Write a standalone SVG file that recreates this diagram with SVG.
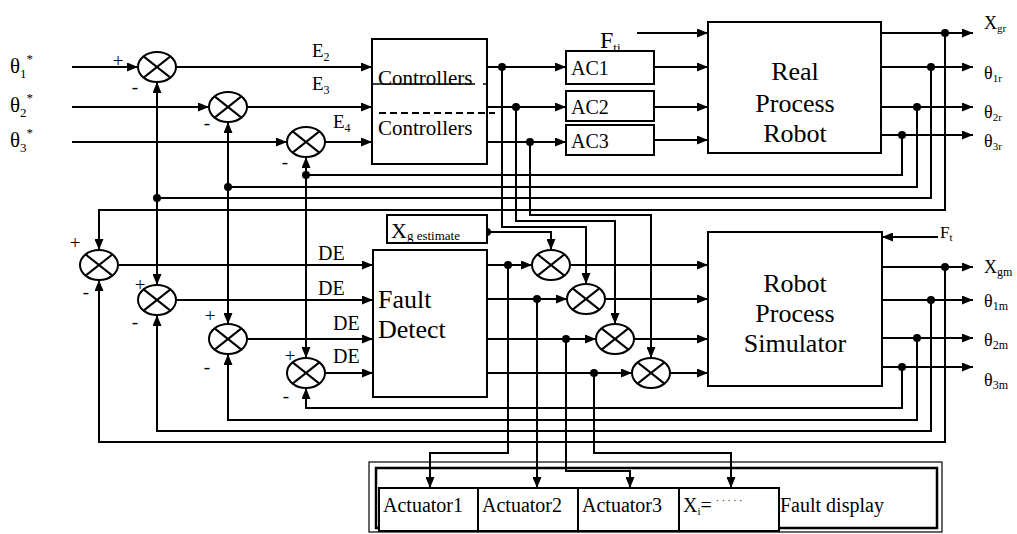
<svg xmlns="http://www.w3.org/2000/svg" width="1017" height="534" viewBox="0 0 1017 534" font-family="'Liberation Serif', 'Times New Roman', 'DejaVu Serif', serif">
<style>
.ln{fill:none;stroke:#000;stroke-width:2}
.ar{marker-end:url(#ah)}
.box{fill:#fff;stroke:#000;stroke-width:2}
.dot{fill:#000}
.sg{font-size:19px;text-anchor:middle}
.big{font-size:26px;text-anchor:middle}
</style>
<defs>
<marker id="ah" markerWidth="11" markerHeight="9" refX="11" refY="4.5" orient="auto" markerUnits="userSpaceOnUse"><path d="M0,0 L11,4.5 L0,9 z" fill="#000"/></marker>
<g id="x"><ellipse cx="0" cy="0" rx="19" ry="15" fill="#fff" stroke="#000" stroke-width="2"/><path d="M-13.4,-10.6 L13.4,10.6 M-13.4,10.6 L13.4,-10.6" fill="none" stroke="#000" stroke-width="2"/></g>
</defs>
<rect width="1017" height="534" fill="#fff"/>

<g id="connectors">
<path class="ln ar" d="M72,67 H138"/>
<path class="ln ar" d="M72,107 H209"/>
<path class="ln ar" d="M72,142 H287"/>
<path class="ln ar" d="M176,67 H372"/>
<path class="ln ar" d="M247,107 H372"/>
<path class="ln ar" d="M325,142 H372"/>
<path class="ln ar" d="M487,67 H566"/>
<path class="ln ar" d="M487,107 H566"/>
<path class="ln ar" d="M487,142 H566"/>
<path class="ln ar" d="M654,67 H708"/>
<path class="ln ar" d="M654,107 H708"/>
<path class="ln ar" d="M654,140 H708"/>
<path class="ln ar" d="M637,33 H708"/>
<path class="ln ar" d="M881,33 H973"/>
<path class="ln ar" d="M881,67 H973"/>
<path class="ln ar" d="M881,107 H973"/>
<path class="ln ar" d="M881,135 H973"/>
<path class="ln ar" d="M945,33 V210 H99 V250"/>
<path class="ln" d="M931,67 V198 H157"/>
<path class="ln ar" d="M157,198 V82"/>
<path class="ln ar" d="M157,198 V285"/>
<path class="ln" d="M917,107 V187 H228"/>
<path class="ln ar" d="M228,187 V122"/>
<path class="ln ar" d="M228,187 V324"/>
<path class="ln" d="M902,135 V175 H306"/>
<path class="ln ar" d="M306,175 V157"/>
<path class="ln ar" d="M306,175 V358"/>
<path class="ln ar" d="M502,67 V227 H586 V284"/>
<path class="ln ar" d="M516,107 V221 H615 V324"/>
<path class="ln ar" d="M530,142 V215 H651 V358"/>
<path class="ln ar" d="M487,232 H551 V250"/>
<path class="ln ar" d="M118,265 H373"/>
<path class="ln ar" d="M176,300 H373"/>
<path class="ln ar" d="M247,339 H373"/>
<path class="ln ar" d="M325,373 H373"/>
<path class="ln ar" d="M487,265 H532"/>
<path class="ln ar" d="M487,299 H567"/>
<path class="ln ar" d="M487,339 H596"/>
<path class="ln ar" d="M487,373 H632"/>
<path class="ln ar" d="M570,265 H708"/>
<path class="ln ar" d="M605,299 H708"/>
<path class="ln ar" d="M634,339 H708"/>
<path class="ln ar" d="M670,373 H708"/>
<path class="ln ar" d="M938,237 H882"/>
<path class="ln ar" d="M882,267 H973"/>
<path class="ln ar" d="M882,300 H973"/>
<path class="ln ar" d="M882,338 H973"/>
<path class="ln ar" d="M882,367 H973"/>
<path class="ln ar" d="M902,367 V408 H306 V388"/>
<path class="ln ar" d="M917,338 V420 H228 V354"/>
<path class="ln ar" d="M931,300 V431 H157 V315"/>
<path class="ln ar" d="M945,267 V442 H99 V280"/>
<path class="ln ar" d="M508,265 V453 H430 V488"/>
<path class="ln ar" d="M537,299 V488"/>
<path class="ln ar" d="M566,339 V471 H630 V488"/>
<path class="ln ar" d="M594,373 V453 H731 V488"/>
<g class="dot">
<circle cx="502" cy="67" r="4"/><circle cx="516" cy="107" r="4"/><circle cx="530" cy="142" r="4"/>
<circle cx="945" cy="33" r="4"/><circle cx="931" cy="67" r="4"/><circle cx="917" cy="107" r="4"/><circle cx="902" cy="135" r="4"/>
<circle cx="157" cy="198" r="4"/><circle cx="228" cy="187" r="4"/><circle cx="306" cy="175" r="4"/>
<circle cx="487" cy="232" r="4"/>
<circle cx="508" cy="265" r="4"/><circle cx="537" cy="299" r="4"/><circle cx="566" cy="339" r="4"/><circle cx="594" cy="373" r="4"/>
<circle cx="945" cy="267" r="4"/><circle cx="931" cy="300" r="4"/><circle cx="917" cy="338" r="4"/><circle cx="902" cy="367" r="4"/>
</g>
</g>

<g id="inputs">
<text x="10" y="73" font-size="21">θ<tspan font-size="13" dy="5">1</tspan><tspan font-size="13" dy="-15">*</tspan></text>
<text x="10" y="112" font-size="21">θ<tspan font-size="13" dy="5">2</tspan><tspan font-size="13" dy="-15">*</tspan></text>
<text x="10" y="147" font-size="21">θ<tspan font-size="13" dy="5">3</tspan><tspan font-size="13" dy="-15">*</tspan></text>
</g>

<g id="sum1"><use href="#x" x="157" y="67"/></g>
<g id="sum2"><use href="#x" x="228" y="107"/></g>
<g id="sum3"><use href="#x" x="306" y="142"/></g>
<g id="sumL1"><use href="#x" x="99" y="265"/></g>
<g id="sumL2"><use href="#x" x="157" y="300"/></g>
<g id="sumL3"><use href="#x" x="228" y="339"/></g>
<g id="sumL4"><use href="#x" x="306" y="373"/></g>
<g id="sumA"><use href="#x" x="551" y="265"/></g>
<g id="sumB"><use href="#x" x="586" y="299"/></g>
<g id="sumC"><use href="#x" x="615" y="339"/></g>
<g id="sumD"><use href="#x" x="651" y="373"/></g>

<g id="signs">
<text class="sg" x="118" y="67">+</text>
<text class="sg" x="135" y="93">-</text>
<text class="sg" x="207" y="129">-</text>
<text class="sg" x="285" y="168">-</text>
<text class="sg" x="75" y="249">+</text>
<text class="sg" x="86" y="298">-</text>
<text class="sg" x="140" y="291">+</text>
<text class="sg" x="135" y="328">-</text>
<text class="sg" x="210" y="322">+</text>
<text class="sg" x="207" y="373">-</text>
<text class="sg" x="290" y="362">+</text>
<text class="sg" x="286" y="402">-</text>
</g>

<g id="elabels" font-size="19">
<text x="312" y="57">E<tspan font-size="12" dy="4">2</tspan></text>
<text x="312" y="90">E<tspan font-size="12" dy="4">3</tspan></text>
<text x="333" y="128">E<tspan font-size="12" dy="4">4</tspan></text>
<text x="318" y="260" font-size="20">DE</text>
<text x="318" y="295" font-size="20">DE</text>
<text x="333" y="330" font-size="20">DE</text>
<text x="333" y="363" font-size="20">DE</text>
</g>

<g id="controllers">
<rect class="box" x="372" y="39" width="115" height="125"/>
<path d="M373,84 H475 M483,84 H487" stroke="#000" stroke-width="1.5"/>
<path d="M379,113 H495" stroke="#000" stroke-width="2" stroke-dasharray="7,4"/>
<text x="378" y="85" font-size="21">Controllers</text>
<text x="378" y="135" font-size="21">Controllers</text>
</g>

<g id="fti"><text x="600" y="48" font-size="24">F<tspan font-size="13" dy="4">ti</tspan></text></g>

<g id="ac1"><rect class="box" x="566" y="51" width="88" height="33"/><text x="571" y="75" font-size="20">AC1</text></g>
<g id="ac2"><rect class="box" x="566" y="91" width="88" height="30"/><text x="571" y="114" font-size="20">AC2</text></g>
<g id="ac3"><rect class="box" x="566" y="125" width="88" height="30"/><text x="571" y="148" font-size="20">AC3</text></g>

<g id="real">
<rect class="box" x="708" y="22" width="173" height="131"/>
<text class="big" x="795" y="80">Real</text>
<text class="big" x="795" y="112">Process</text>
<text class="big" x="795" y="142">Robot</text>
</g>

<g id="realout" font-size="18">
<text x="984" y="29">X<tspan font-size="11" dy="3">gr</tspan></text>
<text x="984" y="79">θ<tspan font-size="11" dy="3">1r</tspan></text>
<text x="984" y="118">θ<tspan font-size="11" dy="3">2r</tspan></text>
<text x="984" y="147">θ<tspan font-size="11" dy="3">3r</tspan></text>
</g>

<g id="xgest">
<rect class="box" x="387" y="215" width="100" height="28"/>
<text x="391" y="238" font-size="22">X<tspan font-size="13" dy="2">g estimate</tspan></text>
</g>

<g id="fault">
<rect class="box" x="373" y="250" width="114" height="147"/>
<text x="378" y="308" font-size="26">Fault</text>
<text x="378" y="338" font-size="26">Detect</text>
</g>

<g id="sim">
<rect class="box" x="708" y="232" width="174" height="154"/>
<text class="big" x="795" y="292">Robot</text>
<text class="big" x="795" y="322">Process</text>
<text class="big" x="795" y="352">Simulator</text>
</g>

<g id="ft"><text x="940" y="238" font-size="17">F<tspan font-size="11" dy="3">t</tspan></text></g>

<g id="simout" font-size="18">
<text x="984" y="273">X<tspan font-size="12" dy="3">gm</tspan></text>
<text x="984" y="307">θ<tspan font-size="12" dy="3">1m</tspan></text>
<text x="984" y="346">θ<tspan font-size="12" dy="3">2m</tspan></text>
<text x="984" y="386">θ<tspan font-size="12" dy="3">3m</tspan></text>
</g>

<g id="display">
<rect x="369" y="462" width="573" height="70" fill="none" stroke="#000" stroke-width="1.2"/>
<rect x="376" y="468" width="561" height="60" fill="none" stroke="#000" stroke-width="2.5"/>
<g id="act1"><rect class="box" x="379" y="488" width="99" height="43"/><text x="383" y="512" font-size="20">Actuator1</text></g>
<g id="act2"><rect class="box" x="478" y="488" width="100" height="43"/><text x="482" y="512" font-size="20">Actuator2</text></g>
<g id="act3"><rect class="box" x="578" y="488" width="101" height="43"/><text x="582" y="512" font-size="20">Actuator3</text></g>
<g id="xi"><rect class="box" x="679" y="488" width="100" height="43"/><text x="683" y="512" font-size="20">X<tspan font-size="11" dy="3">i</tspan><tspan dy="-3">=</tspan><tspan font-size="10" dy="-8" dx="4">· · · · ·</tspan></text></g>
<text x="780" y="512" font-size="20">Fault display</text>
</g>
</svg>
